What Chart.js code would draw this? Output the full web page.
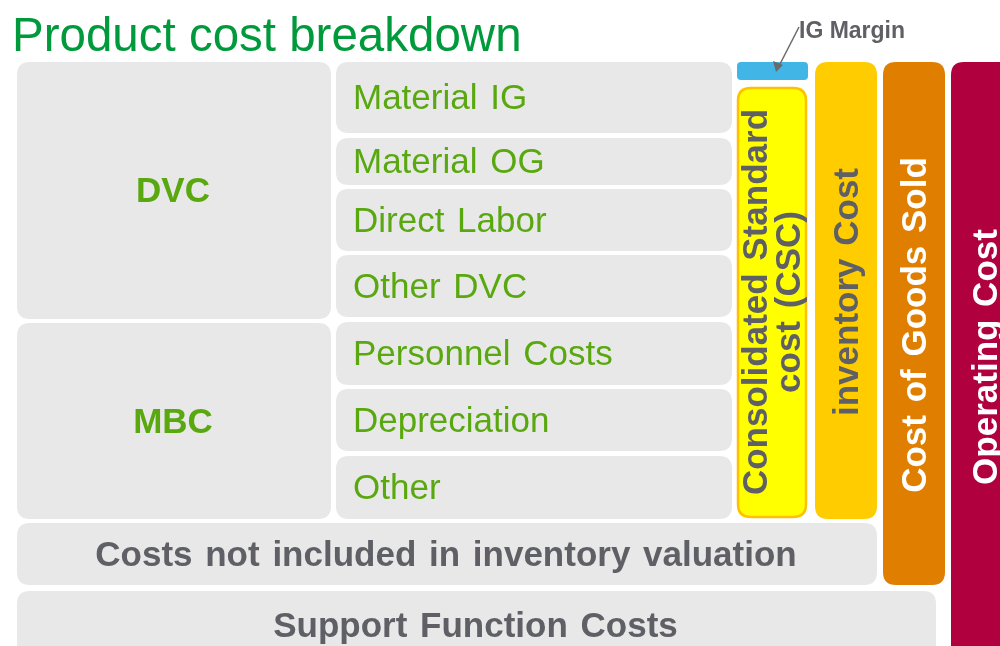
<!DOCTYPE html>
<html>
<head>
<meta charset="utf-8">
<script src="https://cdn.jsdelivr.net/npm/chart.js@4"></script>
<style>
  body { margin: 0; background: #fff; }
  #wrap { width: 1000px; height: 646px; position: relative; }
</style>
</head>
<body>
<div id="wrap"><canvas id="myChart"></canvas></div>
<script>
// block extents on a 0..1000 x 0..646 grid
var boxNames = ['DVC', 'MBC', 'Material IG', 'Material OG', 'Direct Labor', 'Other DVC',
    'Personnel Costs', 'Depreciation', 'Other', 'Costs not included in inventory valuation',
    'Support Function Costs', 'IG Margin', 'Consolidated Standard|cost (CSC)', 'inventory Cost',
    'Cost of Goods Sold', 'Operating Cost'];
var xFrom = [17, 17, 336, 336, 336, 336, 336, 336, 336, 17, 17, 737, 737, 815, 883, 951];
var xTo   = [331, 331, 732, 732, 732, 732, 732, 732, 732, 877, 936, 808, 807, 877, 945, 1012];
var yFrom = [62, 323, 62, 138, 189, 255, 322, 389, 456, 523, 591, 62, 87, 62, 62, 62];
var yTo   = [319, 519, 133, 185, 251, 317, 385, 451, 519, 585, 660, 80, 518, 519, 585, 660];
var kind  = ['group', 'group', 'item', 'item', 'item', 'item', 'item', 'item', 'item', 'wide', 'wide',
    'margin', 'csc', 'inv', 'cogs', 'opex'];

var fills = { group: '#e8e8e8', item: '#e8e8e8', wide: '#e8e8e8', margin: '#41b6e6',
    csc: '#ffff00', inv: '#ffcc00', cogs: '#e07e00', opex: '#b0003e' };
var green = '#5aa80f';
var grey = '#5f5f66';

function rr(ctx, x, y, w, h, r) {
    ctx.beginPath();
    ctx.moveTo(x + r, y);
    ctx.lineTo(x + w - r, y);
    ctx.quadraticCurveTo(x + w, y, x + w, y + r);
    ctx.lineTo(x + w, y + h - r);
    ctx.quadraticCurveTo(x + w, y + h, x + w - r, y + h);
    ctx.lineTo(x + r, y + h);
    ctx.quadraticCurveTo(x, y + h, x, y + h - r);
    ctx.lineTo(x, y + r);
    ctx.quadraticCurveTo(x, y, x + r, y);
    ctx.closePath();
}

var boxPlugin = {
    id: 'boxes',
    afterDatasetsDraw: function(chart) {
        var ctx = chart.ctx;
        var sx = chart.scales.x, sy = chart.scales.y;
        ctx.save();
        ctx.textBaseline = 'middle';
        ctx.wordSpacing = '3px';
        for (var i = 0; i < boxNames.length; i++) {
            var x0 = sx.getPixelForValue(xFrom[i]), x1 = sx.getPixelForValue(xTo[i]);
            var y0 = sy.getPixelForValue(yFrom[i]), y1 = sy.getPixelForValue(yTo[i]);
            var w = x1 - x0, h = y1 - y0;
            var k = kind[i];
            var r = k === 'margin' ? 4 : 13;
            rr(ctx, x0, y0, w, h, r);
            ctx.fillStyle = fills[k];
            ctx.fill();
            if (k === 'csc') {
                ctx.lineWidth = 2.5;
                ctx.strokeStyle = '#ffc000';
                rr(ctx, x0 + 1, y0 + 1, w - 2, h - 2, r);
                ctx.stroke();
            }
            var cx = (x0 + x1) / 2, cy = (y0 + y1) / 2;
            if (k === 'group') {
                ctx.fillStyle = green;
                ctx.font = 'bold 35px "Liberation Sans", Arial';
                ctx.textAlign = 'center';
                ctx.fillText(boxNames[i], cx - 1, cy + 2);
            } else if (k === 'item') {
                ctx.fillStyle = green;
                ctx.font = '35px "Liberation Sans", Arial';
                ctx.textAlign = 'left';
                ctx.fillText(boxNames[i], x0 + 17, cy + 2);
            } else if (k === 'wide') {
                ctx.fillStyle = grey;
                ctx.font = 'bold 35px "Liberation Sans", Arial';
                ctx.textAlign = 'center';
                ctx.fillText(boxNames[i], cx - 1, cy + 2);
            } else if (k !== 'margin') {
                var lines = boxNames[i].split('|');
                ctx.save();
                var ty = k === 'inv' ? 292 : (k === 'cogs' ? 325 : (k === 'opex' ? 357 : 302));
                var tx = k === 'opex' ? 985 : cx;
                ctx.translate(tx, sy.getPixelForValue(ty));
                ctx.rotate(-Math.PI / 2);
                ctx.fillStyle = (k === 'csc' || k === 'inv') ? grey : '#ffffff';
                ctx.font = 'bold 35px "Liberation Sans", Arial';
                ctx.textAlign = 'center';
                var lh = 33;
                for (var j = 0; j < lines.length; j++) {
                    ctx.fillText(lines[j], 0, (j - (lines.length - 1) / 2) * lh + 2);
                }
                ctx.restore();
            }
        }
        ctx.wordSpacing = '0px';
        // IG Margin callout
        ctx.fillStyle = grey;
        ctx.font = 'bold 23px "Liberation Sans", Arial';
        ctx.textAlign = 'left';
        ctx.fillText('IG Margin', 799, 32);
        ctx.strokeStyle = '#6a6a6a';
        ctx.lineWidth = 1.5;
        ctx.beginPath();
        ctx.moveTo(799, 27);
        ctx.lineTo(779, 66);
        ctx.stroke();
        ctx.fillStyle = '#6a6a6a';
        ctx.beginPath();
        ctx.moveTo(776, 72);
        ctx.lineTo(773, 61);
        ctx.lineTo(783, 65);
        ctx.closePath();
        ctx.fill();
        // title
        ctx.fillStyle = '#009a3c';
        ctx.font = '47.5px "Liberation Sans", Arial';
        ctx.textAlign = 'left';
        ctx.textBaseline = 'alphabetic';
        ctx.fillText('Product cost breakdown', 12, 51);
        ctx.restore();
    }
};

var config = {
    type: 'scatter',
    data: {
        datasets: [{
            data: boxNames.map(function(n, i) { return { x: xFrom[i], y: yFrom[i] }; }),
            pointRadius: 0,
            pointHoverRadius: 0
        }]
    },
    options: {
        responsive: true,
        maintainAspectRatio: false,
        animation: false,
        layout: { padding: 0 },
        plugins: { legend: { display: false }, tooltip: { enabled: false } },
        scales: {
            x: { type: 'linear', min: 0, max: 1000, display: false },
            y: { type: 'linear', min: 0, max: 646, reverse: true, display: false }
        }
    },
    plugins: [boxPlugin]
};

window.onload = function() {
    var ctx = document.getElementById('myChart').getContext('2d');
    window.myChart = new Chart(ctx, config);
};
</script>
</body>
</html>
